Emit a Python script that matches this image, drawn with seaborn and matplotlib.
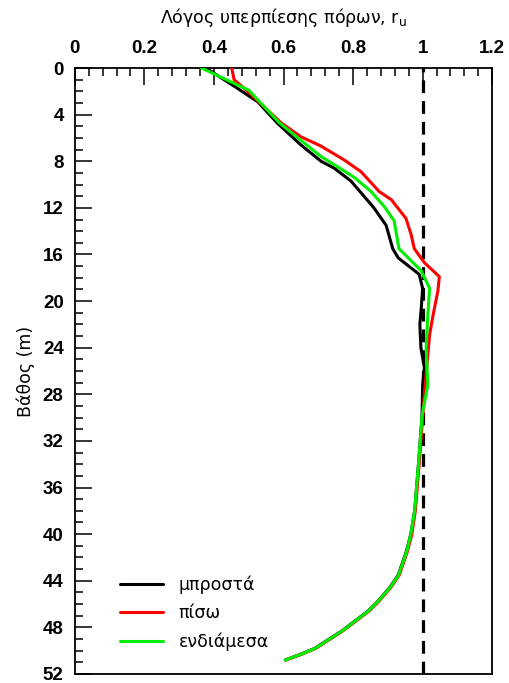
import numpy as np
import pandas as pd
import matplotlib
matplotlib.use('Agg')
import matplotlib.pyplot as plt
import seaborn as sns
from matplotlib.ticker import MultipleLocator

# data: depth (m) and r_u per position
depth_front = [0, 1.75, 2.9, 4.75, 6.6, 8.0, 8.6, 9.7, 12.0, 13.5, 15.5, 16.3, 17.7, 18.9, 20.6, 22.0, 24.0,
               25.7, 27.2, 30.0, 34.0, 38.0, 40.0, 41.5, 43.5, 44.6, 45.8, 46.6, 47.8, 48.3, 49.8, 50.3, 50.8]
ru_front = [0.377, 0.468, 0.526, 0.583, 0.65, 0.708, 0.746, 0.794, 0.86, 0.895, 0.914, 0.93, 0.99, 1.0, 0.996,
            0.992, 0.995, 1.005, 1.0, 0.998, 0.988, 0.977, 0.966, 0.953, 0.93, 0.905, 0.87, 0.843, 0.79,
            0.768, 0.69, 0.65, 0.605]

depth_back = [0, 1.0, 2.0, 4.7, 5.9, 6.7, 7.9, 8.9, 10.6, 11.3, 12.9, 14.3, 15.5, 16.7, 17.9, 19.1, 21.2,
              22.9, 24.6, 28.0, 30.0, 34.0, 38.0, 40.0, 41.5, 43.5, 44.6, 45.8, 46.6, 47.8, 48.3, 49.8,
              50.3, 50.8]
ru_back = [0.451, 0.458, 0.497, 0.593, 0.65, 0.708, 0.775, 0.823, 0.875, 0.91, 0.952, 0.967, 0.976, 1.005,
           1.048, 1.044, 1.03, 1.02, 1.015, 1.005, 1.0, 0.99, 0.979, 0.969, 0.956, 0.933, 0.908, 0.873,
           0.846, 0.793, 0.771, 0.693, 0.653, 0.607]

depth_mid = [0, 1.9, 4.7, 6.2, 7.6, 8.5, 9.4, 10.6, 11.9, 13.1, 15.5, 17.4, 18.9, 21.2, 24.0, 27.2, 29.5,
             30.0, 34.0, 38.0, 40.0, 41.5, 43.5, 44.6, 45.8, 46.6, 47.8, 48.3, 49.8, 50.3, 50.8]
ru_mid = [0.364, 0.50, 0.588, 0.65, 0.708, 0.757, 0.804, 0.852, 0.89, 0.918, 0.932, 0.996, 1.02, 1.015,
          1.01, 1.015, 1.0, 0.998, 0.988, 0.977, 0.966, 0.954, 0.931, 0.906, 0.871, 0.844, 0.791, 0.769,
          0.691, 0.651, 0.605]

labels = ['μπροστά', 'πίσω', 'ενδιάμεσα']
colors = ['black', '#ff0000', '#00ee00']

df = pd.concat([
    pd.DataFrame({'ru': ru_front, 'depth': depth_front, 'pos': labels[0]}),
    pd.DataFrame({'ru': ru_back, 'depth': depth_back, 'pos': labels[1]}),
    pd.DataFrame({'ru': ru_mid, 'depth': depth_mid, 'pos': labels[2]}),
], ignore_index=True)

sns.set_style('ticks')
plt.rcParams['font.family'] = ['DejaVu Sans']
plt.rcParams['mathtext.default'] = 'regular'
plt.rcParams['text.color'] = 'black'
plt.rcParams['axes.labelcolor'] = 'black'
plt.rcParams['xtick.color'] = 'black'
plt.rcParams['ytick.color'] = 'black'

fig = plt.figure(figsize=(5.09, 6.83), dpi=100)
ax = fig.add_axes([0.147, 0.0132, 0.82, 0.8872])

ax.axvline(1.0, color='black', lw=2.3, ls=(0, (4, 2.5)), zorder=1)
sns.lineplot(data=df, x='ru', y='depth', hue='pos', palette=dict(zip(labels, colors)),
             sort=False, estimator=None, lw=2.2, ax=ax, zorder=3)

ax.set_xlim(0, 1.2)
ax.set_ylim(52, 0)
ax.xaxis.tick_top()
ax.xaxis.set_label_position('top')
ax.xaxis.set_major_locator(MultipleLocator(0.2))
ax.xaxis.set_minor_locator(MultipleLocator(0.04))
ax.yaxis.set_major_locator(MultipleLocator(4))
ax.yaxis.set_minor_locator(MultipleLocator(1))
ax.set_xticks([0, 0.2, 0.4, 0.6, 0.8, 1.0, 1.2], ['0', '0.2', '0.4', '0.6', '0.8', '1', '1.2'])
ax.tick_params(which='major', direction='in', length=12, width=1.1, labelsize=13.5, pad=8,
               colors='black')
ax.tick_params(which='minor', direction='in', length=5.5, width=1.1, colors='black')
ax.tick_params(axis='x', which='both', top=True, bottom=False)
ax.tick_params(axis='y', which='both', left=True, right=False)
for lab in ax.get_xticklabels() + ax.get_yticklabels():
    lab.set_fontfamily(['Liberation Sans', 'DejaVu Sans'])
    lab.set_fontweight('bold')
for s in ax.spines.values():
    s.set_linewidth(1.3)
    s.set_color('black')

ax.set_xlabel('Λόγος υπερπίεσης πόρων, r$_{u}$', fontsize=12.5, labelpad=12, color='black')
ax.set_ylabel('Βάθος (m)', fontsize=12.5, labelpad=6, color='black')

leg = ax.legend(loc='lower left', bbox_to_anchor=(0.07, 0.012), frameon=False, fontsize=12.5,
                handlelength=2.5, labelspacing=0.6, handletextpad=0.9)
for t in leg.get_texts():
    t.set_color('black')

fig.savefig('out.png', dpi=100)
